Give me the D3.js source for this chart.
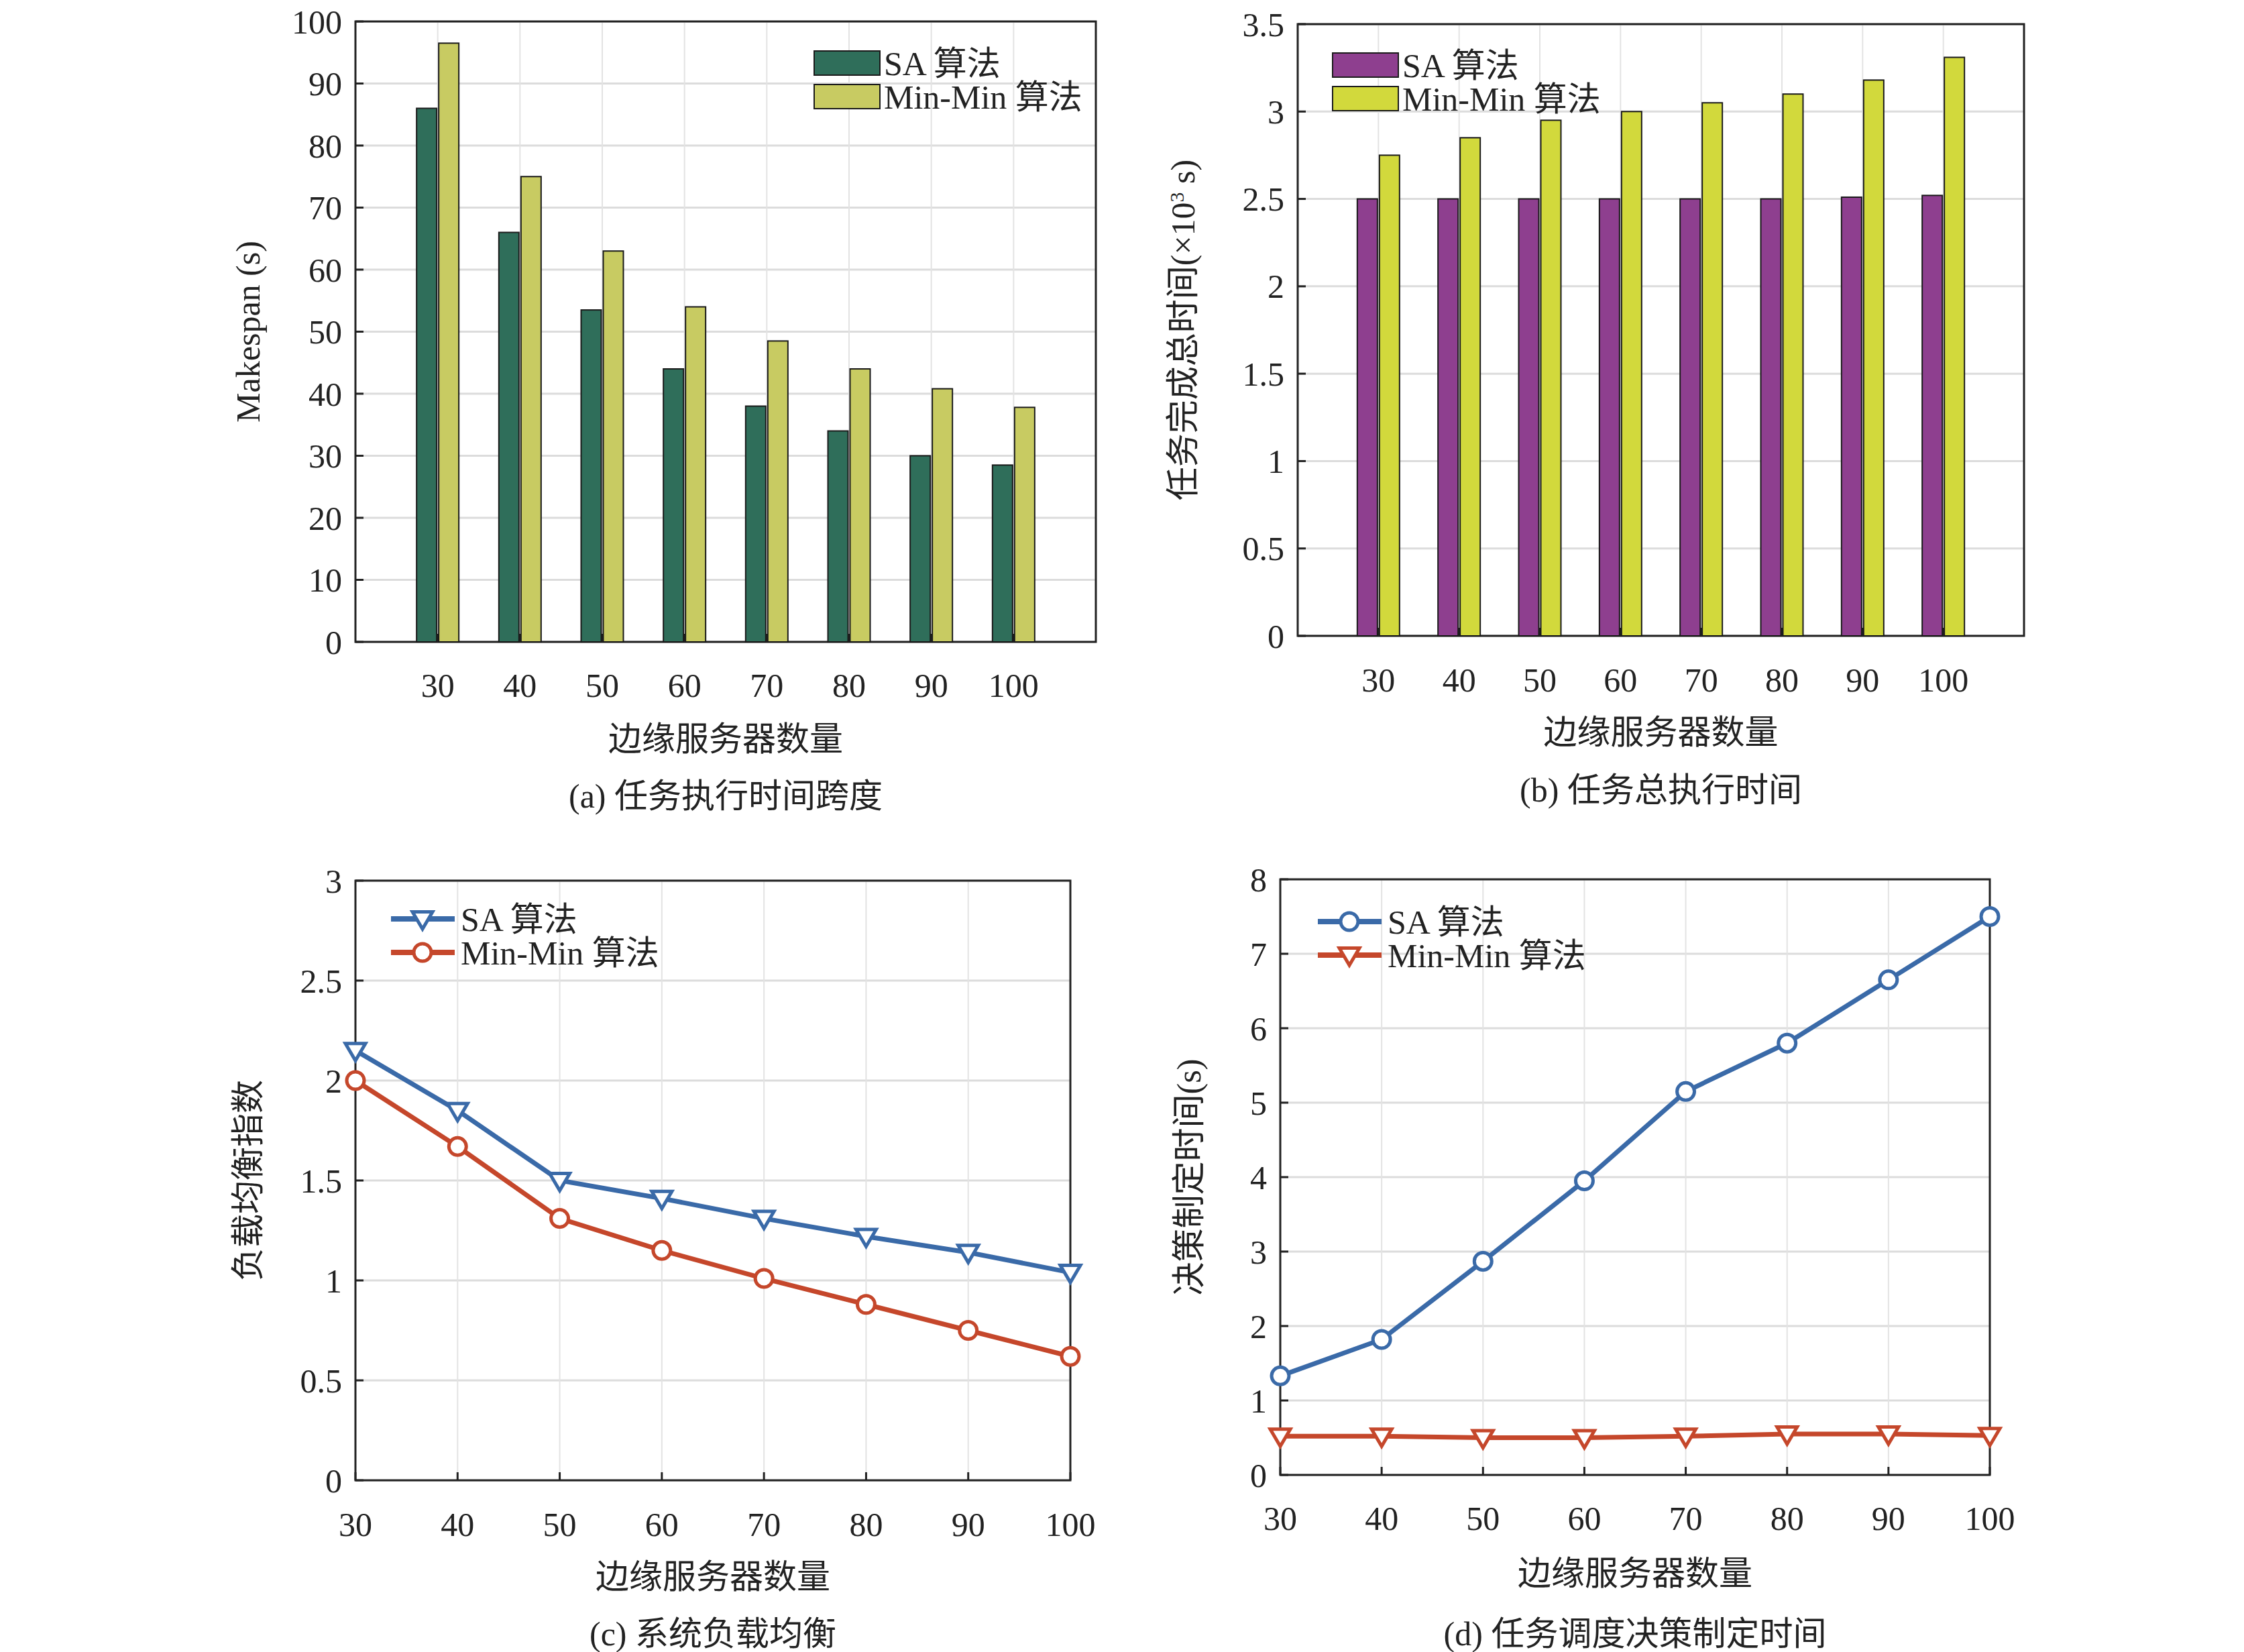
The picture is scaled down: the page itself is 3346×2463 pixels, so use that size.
<!DOCTYPE html>
<html><head><meta charset="utf-8">
<script src="https://cdn.jsdelivr.net/npm/d3@7"></script>
<style>
body{margin:0;background:#fff}
text{font-family:"Liberation Serif","Noto Sans CJK SC",serif;fill:#222}
</style></head><body>
<svg id="c" width="3346" height="2463"></svg>
<script>
var servers = [30, 40, 50, 60, 70, 80, 90, 100];
var makespanSA = [86, 66, 53.5, 44, 38, 34, 30, 28.5];
var makespanMM = [96.5, 75, 63, 54, 48.5, 44, 40.8, 37.8];
var totalSA = [2.5, 2.5, 2.5, 2.5, 2.5, 2.5, 2.51, 2.52];
var totalMM = [2.75, 2.85, 2.95, 3.0, 3.05, 3.1, 3.18, 3.31];
var balanceSA = [2.15, 1.85, 1.5, 1.41, 1.31, 1.22, 1.14, 1.04];
var balanceMM = [2.0, 1.67, 1.31, 1.15, 1.01, 0.88, 0.75, 0.62];
var decideSA = [1.33, 1.82, 2.87, 3.95, 5.15, 5.8, 6.65, 7.5];
var decideMM = [0.52, 0.52, 0.5, 0.5, 0.52, 0.55, 0.55, 0.53];
var ticksA = [0, 10, 20, 30, 40, 50, 60, 70, 80, 90, 100];
var ticksB = [0, 0.5, 1, 1.5, 2, 2.5, 3, 3.5];
var ticksC = [0, 0.5, 1, 1.5, 2, 2.5, 3];
var ticksD = [0, 1, 2, 3, 4, 5, 6, 7, 8];
var names = ["SA 算法", "Min-Min 算法"];

var svg = d3.select("#c");
var FS = 50;

// 面板框架：网格、坐标轴、文字
function frame(p) {
	var g = svg.append("g");
	var x = p.x, y = p.y;
	p.yTicks.forEach(function(t) {
		g.append("line").attr("x1", p.L).attr("x2", p.R).attr("y1", y(t)).attr("y2", y(t))
			.style("stroke", "#dcdcdc").style("stroke-width", 3);
	});
	servers.forEach(function(s) {
		g.append("line").attr("x1", x(s)).attr("x2", x(s)).attr("y1", p.T).attr("y2", p.B)
			.style("stroke", "#e3e3e3").style("stroke-width", 2);
	});
	g.append("rect").attr("x", p.L).attr("y", p.T).attr("width", p.R - p.L).attr("height", p.B - p.T)
		.style("fill", "none").style("stroke", "#222").style("stroke-width", 3);
	p.yTicks.forEach(function(t) {
		g.append("line").attr("x1", p.L).attr("x2", p.L + 12).attr("y1", y(t)).attr("y2", y(t))
			.style("stroke", "#222").style("stroke-width", 3);
		g.append("text").attr("x", p.L - 20).attr("y", y(t)).attr("dy", "0.35em")
			.attr("text-anchor", "end").style("font-size", FS + "px").text(t);
	});
	servers.forEach(function(s) {
		g.append("line").attr("x1", x(s)).attr("x2", x(s)).attr("y1", p.B).attr("y2", p.B - 12)
			.style("stroke", "#222").style("stroke-width", 3);
		g.append("text").attr("x", x(s)).attr("y", p.xLabY).attr("dy", "0.35em")
			.attr("text-anchor", "middle").style("font-size", FS + "px").text(s);
	});
	var cx = (p.L + p.R) / 2;
	g.append("text").attr("x", cx).attr("y", p.xTitY).attr("dy", "0.35em").attr("text-anchor", "middle")
		.style("font-size", "50px").text("边缘服务器数量");
	g.append("text").attr("x", cx).attr("y", p.capY).attr("dy", "0.35em").attr("text-anchor", "middle")
		.style("font-size", "50px").text(p.caption);
	var yt = g.append("text").attr("transform", "translate(" + p.yTitX + "," + ((p.T + p.B) / 2) + ") rotate(-90)")
		.attr("dy", "0.35em").attr("text-anchor", "middle").style("font-size", "50px");
	if (p.sup) {
		yt.append("tspan").text(p.yTitle);
		yt.append("tspan").attr("baseline-shift", "super").style("font-size", "30px").text(p.sup);
		yt.append("tspan").text(p.yTitle2);
	} else yt.text(p.yTitle);
	return g;
}

function barPanel(p) {
	p.x = d3.scaleLinear().domain([20, 110]).range([p.L, p.R]);
	p.y = d3.scaleLinear().domain([0, p.yTicks[p.yTicks.length - 1]]).range([p.B, p.T]);
	var g = frame(p);
	var bw = 30, gap = 3;
	[p.a, p.b].forEach(function(arr, k) {
		g.selectAll(null).data(arr).enter().append("rect")
			.attr("x", function(d, i) { return k === 0 ? p.x(servers[i]) - gap / 2 - bw : p.x(servers[i]) + gap / 2; })
			.attr("y", function(d) { return p.y(d); })
			.attr("width", bw)
			.attr("height", function(d) { return p.B - p.y(d); })
			.style("fill", p.colors[k]).style("stroke", "#1a1a1a").style("stroke-width", 2);
		g.append("rect").attr("x", p.legX).attr("y", p.legY + k * 50 - 18).attr("width", 98).attr("height", 36)
			.style("fill", p.colors[k]).style("stroke", "#1a1a1a").style("stroke-width", 2);
		g.append("text").attr("x", p.legX + 104).attr("y", p.legY + k * 50).attr("dy", "0.35em")
			.style("font-size", "50px").text(names[k]);
	});
}

function marker(g, shape, cx, cy, col) {
	if (shape === "circle") {
		g.append("circle").attr("cx", cx).attr("cy", cy).attr("r", 13)
			.style("fill", "#fff").style("stroke", col).style("stroke-width", 5);
	} else {
		var s = 15;
		g.append("path").attr("d", "M" + (cx - s) + "," + (cy - s * 0.7) + "L" + (cx + s) + "," + (cy - s * 0.7) + "L" + cx + "," + (cy + s) + "Z")
			.style("fill", "#fff").style("stroke", col).style("stroke-width", 5);
	}
}

function linePanel(p) {
	p.x = d3.scaleLinear().domain([30, 100]).range([p.L, p.R]);
	p.y = d3.scaleLinear().domain([0, p.yTicks[p.yTicks.length - 1]]).range([p.B, p.T]);
	var g = frame(p);
	var colors = ["#3a6aa8", "#c5472b"];
	var line = d3.line().x(function(d, i) { return p.x(servers[i]); }).y(function(d) { return p.y(d); });
	[p.a, p.b].forEach(function(arr, k) {
		g.append("path").datum(arr).attr("d", line)
			.style("fill", "none").style("stroke", colors[k]).style("stroke-width", 7);
		arr.forEach(function(d, i) { marker(g, p.shapes[k], p.x(servers[i]), p.y(d), colors[k]); });
		var ly = p.legY + k * 50;
		g.append("line").attr("x1", p.legX).attr("x2", p.legX + 95).attr("y1", ly).attr("y2", ly)
			.style("stroke", colors[k]).style("stroke-width", 8);
		marker(g, p.shapes[k], p.legX + 47, ly, colors[k]);
		g.append("text").attr("x", p.legX + 104).attr("y", ly).attr("dy", "0.35em")
			.style("font-size", "50px").text(names[k]);
	});
}

barPanel({L: 530, R: 1634, T: 32, B: 957, yTicks: ticksA, a: makespanSA, b: makespanMM,
	colors: ["#2f6e5a", "#c8cb62"], legX: 1214, legY: 94, xLabY: 1021, xTitY: 1101, capY: 1186,
	yTitX: 369, yTitle: "Makespan (s)", caption: "(a) 任务执行时间跨度"});
barPanel({L: 1935, R: 3018, T: 36, B: 948, yTicks: ticksB, a: totalSA, b: totalMM,
	colors: ["#8e3f8f", "#d2d93c"], legX: 1987, legY: 97, xLabY: 1013, xTitY: 1091, capY: 1177,
	yTitX: 1763, yTitle: "任务完成总时间(×10", sup: "3", yTitle2: " s)", caption: "(b) 任务总执行时间"});
linePanel({L: 530, R: 1596, T: 1313, B: 2207, yTicks: ticksC, a: balanceSA, b: balanceMM,
	shapes: ["tri", "circle"], legX: 583, legY: 1370, xLabY: 2272, xTitY: 2350, capY: 2435,
	yTitX: 369, yTitle: "负载均衡指数", caption: "(c) 系统负载均衡"});
linePanel({L: 1909, R: 2967, T: 1311, B: 2199, yTicks: ticksD, a: decideSA, b: decideMM,
	shapes: ["circle", "tri"], legX: 1965, legY: 1374, xLabY: 2263, xTitY: 2345, capY: 2435,
	yTitX: 1772, yTitle: "决策制定时间(s)", caption: "(d) 任务调度决策制定时间"});
</script>
</body></html>
